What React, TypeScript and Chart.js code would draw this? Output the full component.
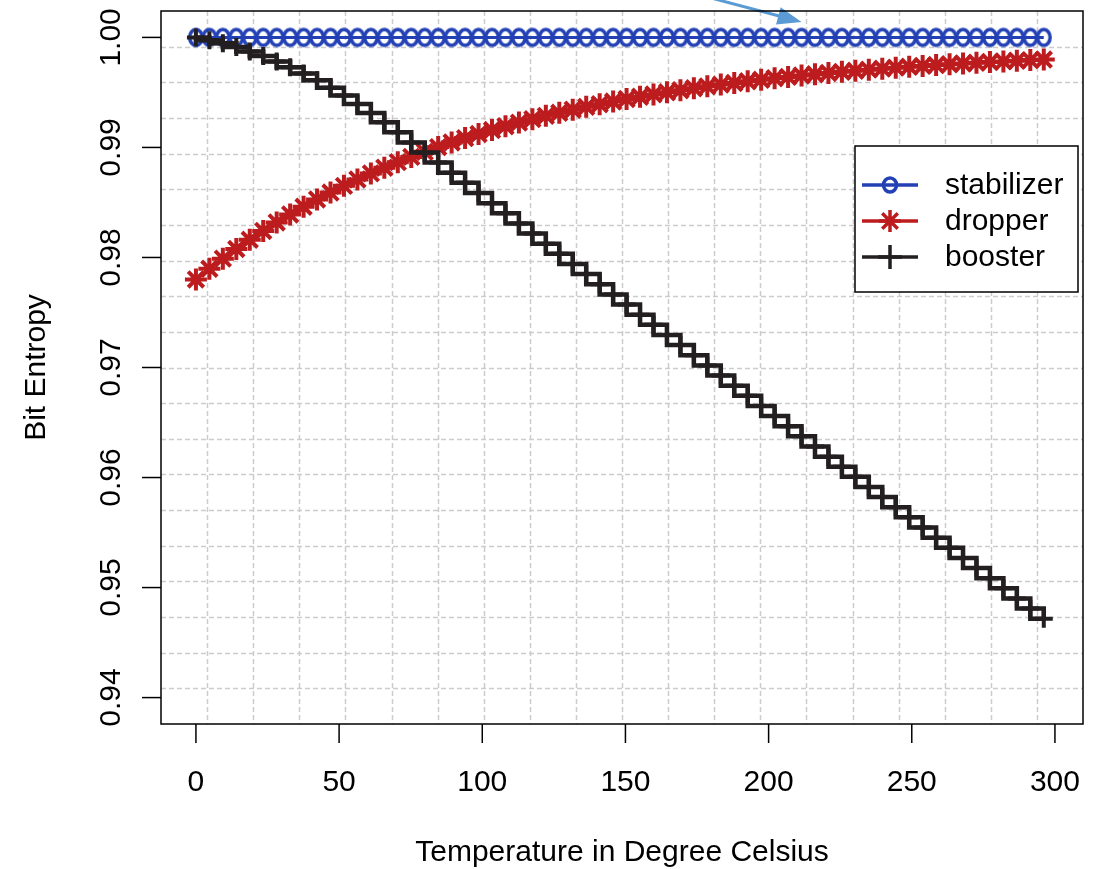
import React, { useEffect, useRef } from 'react';
import { Chart, registerables } from 'chart.js';

Chart.register(...registerables);

const TEMPERATURES = [
  0, 4.7, 9.4, 14.1, 18.8, 23.5, 28.2, 32.9, 37.6, 42.3, 47.0, 51.7, 56.4, 61.1, 65.8, 70.5,
  75.2, 79.9, 84.6, 89.3, 94.0, 98.7, 103.4, 108.1, 112.8, 117.5, 122.2, 126.9, 131.6, 136.3, 141.0, 145.7,
  150.4, 155.1, 159.8, 164.5, 169.2, 173.9, 178.6, 183.3, 188.0, 192.7, 197.4, 202.1, 206.8, 211.5, 216.2, 220.9,
  225.6, 230.3, 235.0, 239.7, 244.4, 249.1, 253.8, 258.5, 263.2, 267.9, 272.6, 277.3, 282.0, 286.7, 291.4, 296.1,
];

const STABILIZER = [
  1, 1, 1, 1, 1, 1, 1, 1, 1, 1, 1, 1, 1, 1, 1, 1,
  1, 1, 1, 1, 1, 1, 1, 1, 1, 1, 1, 1, 1, 1, 1, 1,
  1, 1, 1, 1, 1, 1, 1, 1, 1, 1, 1, 1, 1, 1, 1, 1,
  1, 1, 1, 1, 1, 1, 1, 1, 1, 1, 1, 1, 1, 1, 1, 1,
];

const DROPPER = [
  0.978, 0.97897, 0.97989, 0.98077, 0.98161, 0.98241, 0.98318, 0.98391, 0.98461, 0.98527, 0.9859, 0.98651, 0.98709, 0.98764, 0.98816, 0.98866,
  0.98914, 0.9896, 0.99003, 0.99045, 0.99085, 0.99122, 0.99158, 0.99193, 0.99226, 0.99257, 0.99287, 0.99315, 0.99343, 0.99369, 0.99393, 0.99417,
  0.9944, 0.99461, 0.99482, 0.99501, 0.9952, 0.99538, 0.99555, 0.99571, 0.99586, 0.99601, 0.99615, 0.99629, 0.99641, 0.99654, 0.99665, 0.99677,
  0.99687, 0.99697, 0.99707, 0.99716, 0.99725, 0.99733, 0.99741, 0.99749, 0.99756, 0.99763, 0.9977, 0.99776, 0.99782, 0.99788, 0.99794, 0.99799,
];

const BOOSTER = [
  1.0, 0.99975, 0.99946, 0.99912, 0.99873, 0.9983, 0.99782, 0.99729, 0.99672, 0.9961, 0.99543, 0.99471, 0.99395, 0.99314, 0.99229, 0.99138,
  0.99046, 0.98954, 0.98862, 0.9877, 0.98678, 0.98585, 0.98493, 0.98401, 0.98309, 0.98217, 0.98125, 0.98033, 0.97941, 0.97849, 0.97756, 0.97664,
  0.97572, 0.9748, 0.97388, 0.97296, 0.97204, 0.97112, 0.97019, 0.96927, 0.96835, 0.96743, 0.96651, 0.96559, 0.96467, 0.96375, 0.96282, 0.9619,
  0.96098, 0.96006, 0.95914, 0.95822, 0.9573, 0.95638, 0.95546, 0.95453, 0.95361, 0.95269, 0.95177, 0.95085, 0.94993, 0.94901, 0.94809, 0.94716,
];

const SERIES_NAMES = ['stabilizer', 'dropper', 'booster'];
const X_TICKS = [0, 50, 100, 150, 200, 250, 300];
const Y_TICKS = [0.94, 0.95, 0.96, 0.97, 0.98, 0.99, 1.0];
const Y_TICK_LABELS = ['0.94', '0.95', '0.96', '0.97', '0.98', '0.99', '1.00'];
const X_LIMITS = [-12.2, 309.8];
const Y_LIMITS = [0.9376, 1.0024];
const GRID_DIVISIONS = 20;
const X_TITLE = 'Temperature in Degree Celsius';
const Y_TITLE = 'Bit Entropy';
// annotation arrow (data units): tail outside the top, tip near the stabilizer line
const ARROW_FROM = { x: 165.5, y: 1.00458 };
const ARROW_TO = { x: 211.5, y: 1.0014 };

const BLUE = '#2341b5';
const RED = '#bd1c1f';
const BLACK = '#231f20';
const ARROW_BLUE = '#5b9bd5';
const FONT = '"Liberation Sans", Arial, Helvetica, sans-serif';

function makeEllipseMarker(color: string): HTMLCanvasElement {
  const c = document.createElement('canvas');
  c.width = 22;
  c.height = 26;
  const g = c.getContext('2d') as CanvasRenderingContext2D;
  g.strokeStyle = color;
  g.lineWidth = 3.5;
  g.beginPath();
  g.ellipse(11, 13, 6.3, 8, 0, 0, Math.PI * 2);
  g.stroke();
  return c;
}

function drawMarker(ctx: CanvasRenderingContext2D, kind: string, x: number, y: number, color: string) {
  ctx.save();
  ctx.strokeStyle = color;
  ctx.lineWidth = 3.5;
  ctx.setLineDash([]);
  ctx.beginPath();
  if (kind === 'circle') {
    ctx.ellipse(x, y, 6.5, 7, 0, 0, Math.PI * 2);
  } else if (kind === 'star') {
    const r = 11;
    for (let k = 0; k < 4; k++) {
      const ang = (k * Math.PI) / 4;
      ctx.moveTo(x - r * Math.cos(ang), y - r * Math.sin(ang));
      ctx.lineTo(x + r * Math.cos(ang), y + r * Math.sin(ang));
    }
  } else {
    const r = 12;
    ctx.moveTo(x - r, y);
    ctx.lineTo(x + r, y);
    ctx.moveTo(x, y - r);
    ctx.lineTo(x, y + r);
  }
  ctx.stroke();
  ctx.restore();
}

const rPlotPlugin = {
  id: 'rPlot',
  beforeDatasetsDraw(chart: any) {
    const { ctx, chartArea: a } = chart;
    ctx.save();
    ctx.strokeStyle = '#cccccc';
    ctx.lineWidth = 1.5;
    ctx.setLineDash([5, 3]);
    for (let k = 1; k < GRID_DIVISIONS; k++) {
      const px = Math.round(a.left + ((a.right - a.left) * k) / GRID_DIVISIONS) + 0.5;
      ctx.beginPath();
      ctx.moveTo(px, a.top);
      ctx.lineTo(px, a.bottom);
      ctx.stroke();
      const py = Math.round(a.top + ((a.bottom - a.top) * k) / GRID_DIVISIONS) + 0.5;
      ctx.beginPath();
      ctx.moveTo(a.left, py);
      ctx.lineTo(a.right, py);
      ctx.stroke();
    }
    ctx.restore();
  },
  afterDraw(chart: any) {
    const { ctx, chartArea: a, scales } = chart;
    const xs = scales.x;
    const ys = scales.y;
    ctx.save();
    ctx.setLineDash([]);

    // arrow annotation
    const ax0 = xs.getPixelForValue(ARROW_FROM.x);
    const ay0 = ys.getPixelForValue(ARROW_FROM.y);
    const ax1 = xs.getPixelForValue(ARROW_TO.x);
    const ay1 = ys.getPixelForValue(ARROW_TO.y);
    const ang = Math.atan2(ay1 - ay0, ax1 - ax0);
    const headLen = 24;
    const headHalf = 9;
    ctx.strokeStyle = ARROW_BLUE;
    ctx.fillStyle = ARROW_BLUE;
    ctx.lineWidth = 3;
    ctx.beginPath();
    ctx.moveTo(ax0, ay0);
    ctx.lineTo(ax1 - headLen * 0.8 * Math.cos(ang), ay1 - headLen * 0.8 * Math.sin(ang));
    ctx.stroke();
    const bx = ax1 - headLen * Math.cos(ang);
    const by = ay1 - headLen * Math.sin(ang);
    ctx.beginPath();
    ctx.moveTo(ax1, ay1);
    ctx.lineTo(bx + headHalf * Math.sin(ang), by - headHalf * Math.cos(ang));
    ctx.lineTo(bx - headHalf * Math.sin(ang), by + headHalf * Math.cos(ang));
    ctx.closePath();
    ctx.fill();

    // plot box
    ctx.strokeStyle = '#000000';
    ctx.lineWidth = 1.5;
    ctx.strokeRect(a.left, a.top, a.right - a.left, a.bottom - a.top);

    // ticks and labels
    ctx.fillStyle = '#000000';
    ctx.font = `30px ${FONT}`;
    ctx.textAlign = 'center';
    ctx.textBaseline = 'alphabetic';
    X_TICKS.forEach((v) => {
      const px = xs.getPixelForValue(v);
      ctx.beginPath();
      ctx.moveTo(px, a.bottom);
      ctx.lineTo(px, a.bottom + 19);
      ctx.stroke();
      ctx.fillText(String(v), px, 791);
    });
    Y_TICKS.forEach((v, i) => {
      const py = ys.getPixelForValue(v);
      ctx.beginPath();
      ctx.moveTo(a.left, py);
      ctx.lineTo(a.left - 19, py);
      ctx.stroke();
      ctx.save();
      ctx.translate(120, py);
      ctx.rotate(-Math.PI / 2);
      ctx.fillText(Y_TICK_LABELS[i], 0, 0);
      ctx.restore();
    });

    // axis titles
    ctx.fillText(X_TITLE, (a.left + a.right) / 2, 861);
    ctx.save();
    ctx.translate(45, (a.top + a.bottom) / 2);
    ctx.rotate(-Math.PI / 2);
    ctx.fillText(Y_TITLE, 0, 0);
    ctx.restore();

    // legend
    const lx = 855, ly = 146, lw = 223, lh = 146;
    ctx.fillStyle = '#ffffff';
    ctx.fillRect(lx, ly, lw, lh);
    ctx.strokeStyle = '#000000';
    ctx.lineWidth = 1.5;
    ctx.strokeRect(lx, ly, lw, lh);
    const kinds = ['circle', 'star', 'cross'];
    const colors = [BLUE, RED, BLACK];
    const rows = [185, 221, 257];
    SERIES_NAMES.forEach((name, i) => {
      const ry = rows[i];
      ctx.strokeStyle = colors[i];
      ctx.lineWidth = 3.5;
      ctx.beginPath();
      ctx.moveTo(862, ry);
      ctx.lineTo(918, ry);
      ctx.stroke();
      drawMarker(ctx, kinds[i], 890, ry, colors[i]);
      ctx.fillStyle = '#000000';
      ctx.textAlign = 'left';
      ctx.textBaseline = 'middle';
      ctx.fillText(name, 945, ry + 1);
    });
    ctx.restore();
  },
};

export default function App() {
  const ref = useRef<HTMLCanvasElement | null>(null);

  useEffect(() => {
    document.body.style.margin = '0';
    const canvas = ref.current;
    if (!canvas) return;
    const toPoints = (vals: number[]) => vals.map((v, i) => ({ x: TEMPERATURES[i], y: v }));
    const chart = new Chart(canvas, {
      type: 'line',
      data: {
        datasets: [
          {
            label: SERIES_NAMES[0],
            data: toPoints(STABILIZER),
            borderColor: BLUE,
            backgroundColor: 'rgba(0,0,0,0)',
            borderWidth: 3,
            pointStyle: makeEllipseMarker(BLUE),
            pointRadius: 8,
            order: 4,
          },
          {
            label: SERIES_NAMES[1],
            data: toPoints(DROPPER),
            borderColor: RED,
            backgroundColor: RED,
            borderWidth: 3.5,
            pointStyle: 'star',
            pointRadius: 11,
            pointBorderWidth: 4,
            pointBorderColor: RED,
            order: 3,
          },
          {
            label: SERIES_NAMES[2],
            data: toPoints(BOOSTER),
            borderColor: BLACK,
            backgroundColor: BLACK,
            borderWidth: 4.5,
            stepped: 'before',
            pointStyle: 'cross',
            pointRadius: 9,
            pointBorderWidth: 4,
            pointBorderColor: BLACK,
            order: 1,
          },
          {
            label: SERIES_NAMES[2] + ' (steps)',
            data: toPoints(BOOSTER),
            borderColor: BLACK,
            backgroundColor: BLACK,
            borderWidth: 4.5,
            stepped: 'after',
            pointRadius: 0,
            order: 2,
          },
        ],
      },
      options: {
        responsive: false,
        animation: false,
        events: [],
        layout: { autoPadding: false, padding: { left: 161, right: 16, top: 11, bottom: 145 } },
        plugins: { legend: { display: false }, tooltip: { enabled: false }, title: { display: false } },
        scales: {
          x: { type: 'linear', display: false, min: X_LIMITS[0], max: X_LIMITS[1] },
          y: { type: 'linear', display: false, min: Y_LIMITS[0], max: Y_LIMITS[1] },
        },
      },
      plugins: [rPlotPlugin],
    });
    return () => chart.destroy();
  }, []);

  return <canvas ref={ref} width={1099} height={869} style={{ display: 'block' }} />;
}
